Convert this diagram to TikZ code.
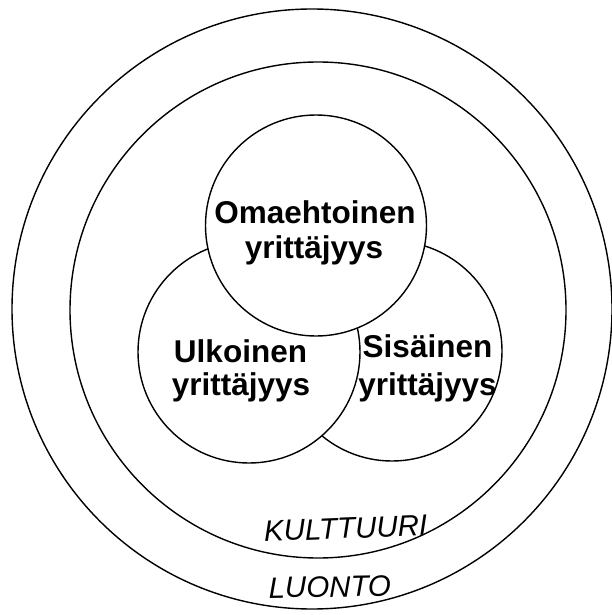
\documentclass[tikz,border=0pt]{standalone}
\usepackage{fontspec}
\setmainfont{Liberation Sans}
\begin{document}
\begin{tikzpicture}[x=1pt,y=-1pt,
  ring/.style={draw=black,line width=1.4pt,fill=white},
  lbl/.style={font=\fontsize{31.5}{36}\selectfont\bfseries,inner sep=0pt,anchor=base},
  zone/.style={font=\fontsize{29.5}{34}\selectfont\itshape,inner sep=0pt,anchor=base}]
\useasboundingbox (0,0) rectangle (612,615);
\fill[white] (0,0) rectangle (612,615);
% outer rings
\node[ring,circle,minimum size=600pt,inner sep=0pt] (luonto) at (312,309) {};
\node[ring,circle,minimum size=496pt,inner sep=0pt] (kulttuuri) at (318,310) {};
% three circles, back to front
\node[ring,circle,minimum size=220pt,inner sep=0pt] (sis) at (392,351) {};
\node[ring,circle,minimum size=222pt,inner sep=0pt] (ulk) at (249,352) {};
\node[ring,circle,minimum size=221pt,inner sep=0pt] (oma) at (316,225.5) {};
% texts
\node[lbl] (oma1) at (315,223) {Omaehtoinen};
\node[lbl] (oma2) at (314,258) {yrittäjyys};
\node[lbl] (ulk1) at (240.5,362) {Ulkoinen};
\node[lbl] (ulk2) at (241,395) {yrittäjyys};
\node[lbl] (sis1) at (427.5,357) {Sisäinen};
\node[lbl] (sis2) at (427.5,395) {yrittäjyys};
\node[zone,rotate=2.3] (kult) at (346,538.5) {KULTTUURI};
\node[zone,rotate=1] (luo) at (330,597) {LUONTO};
\end{tikzpicture}
\end{document}
